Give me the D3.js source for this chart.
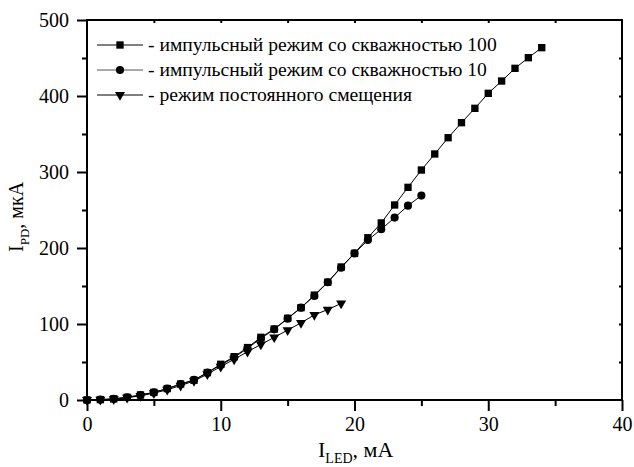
<!DOCTYPE html>
<html>
<head>
<meta charset="utf-8">
<script src="https://cdn.jsdelivr.net/npm/d3@7"></script>
<style>
  body { margin: 0; background: #fff; }
</style>
</head>
<body>
<div id="chart"></div>
<script>
// Data (I_LED in mA, I_PD in uA)
const xSquares = d3.range(0, 35);
const ySquares = [0, 0.5, 1.5, 3.5, 6.6, 10, 15, 21, 26, 36, 47, 57, 69, 82.5, 93.4, 107.5, 121.5, 138, 155, 175,
    193, 213.5, 233, 256.6, 279.8, 302.6, 323.7, 345.1, 364.9, 383.8, 403.5, 419.7, 436.4, 450.4, 463.6];
const xCircles = d3.range(0, 26);
const yCircles = [0, 0.5, 1.5, 3.5, 6.5, 10, 15, 21, 26.5, 36, 46, 56, 68, 81, 93, 107, 121.5, 137, 155, 174,
    193, 210.5, 224.6, 240, 255.7, 269];
const xTriangles = d3.range(0, 20);
const yTriangles = [0, 0.3, 1, 3, 5.5, 9, 13.5, 19, 25, 34, 44, 53.5, 63.6, 73, 82.5, 92, 101.5, 112, 119, 127];

const seriesNames = [
    "- импульсный режим со скважностью 100",
    "- импульсный режим со скважностью 10",
    "- режим постоянного смещения"
];
const xTicks = [0, 10, 20, 30, 40];
const yTicks = [0, 100, 200, 300, 400, 500];

const FONT = "'Liberation Serif', 'Times New Roman', serif";
const width = 634, height = 467;
const margin = { top: 20, right: 12, bottom: 67, left: 87 };

const svg = d3.select("#chart").append("svg")
    .attr("width", width)
    .attr("height", height)
    .attr("font-family", FONT);

const x = d3.scaleLinear().domain([0, 40]).range([margin.left, width - margin.right]);
const y = d3.scaleLinear().domain([0, 500]).range([height - margin.bottom, margin.top]);

const series = [
    { xs: xSquares, ys: ySquares, symbol: d3.symbolSquare, size: 54, rot: 0 },
    { xs: xCircles, ys: yCircles, symbol: d3.symbolCircle, size: 52, rot: 0 },
    { xs: xTriangles, ys: yTriangles, symbol: d3.symbolTriangle, size: 44, rot: 180 }
];

// Minor ticks (bottom / left, outward)
svg.append("g")
    .attr("transform", `translate(0,${y(0)})`)
    .call(d3.axisBottom(x).tickValues(d3.range(5, 40, 10)).tickSize(6).tickFormat(""))
    .call(g => g.select(".domain").remove())
    .call(g => g.selectAll("line").attr("stroke-width", 2));
svg.append("g")
    .attr("transform", `translate(${x(0)},0)`)
    .call(d3.axisLeft(y).tickValues(d3.range(50, 500, 100)).tickSize(5).tickFormat(""))
    .call(g => g.select(".domain").remove())
    .call(g => g.selectAll("line").attr("stroke-width", 2));

// Top / right axes, small inward ticks
svg.append("g")
    .attr("transform", `translate(0,${y(500)})`)
    .call(d3.axisBottom(x).tickValues(d3.range(5, 40, 5)).tickSize(3).tickFormat(""))
    .call(g => g.select(".domain").remove())
    .call(g => g.selectAll("line").attr("stroke-width", 2));
svg.append("g")
    .attr("transform", `translate(${x(40)},0)`)
    .call(d3.axisLeft(y).tickValues(d3.range(50, 500, 50)).tickSize(3).tickFormat(""))
    .call(g => g.select(".domain").remove())
    .call(g => g.selectAll("line").attr("stroke-width", 2));

// Main axes
const xAxis = svg.append("g")
    .attr("transform", `translate(0,${y(0)})`)
    .call(d3.axisBottom(x).tickValues(xTicks).tickSize(11).tickPadding(6).tickSizeOuter(0));
const yAxis = svg.append("g")
    .attr("transform", `translate(${x(0)},0)`)
    .call(d3.axisLeft(y).tickValues(yTicks).tickSize(10).tickPadding(8).tickSizeOuter(0));
[xAxis, yAxis].forEach(g => {
    g.attr("font-family", FONT).attr("font-size", 20);
    g.select(".domain").remove();
    g.selectAll("line").attr("stroke-width", 2);
    g.selectAll("text").style("font-family", FONT).style("font-size", "20px").attr("fill", "#000");
});

// Frame
svg.append("rect")
    .attr("x", x(0))
    .attr("y", y(500))
    .attr("width", x(40) - x(0))
    .attr("height", y(0) - y(500))
    .attr("fill", "none")
    .attr("stroke", "#000")
    .attr("stroke-width", 2);

// Lines and markers
const line = d3.line().x(d => x(d[0])).y(d => y(d[1]));
series.forEach(s => {
    const pts = s.xs.map((v, i) => [v, s.ys[i]]);
    svg.append("path")
        .datum(pts)
        .attr("d", line)
        .attr("fill", "none")
        .attr("stroke", "#000")
        .attr("stroke-width", 1);
    svg.append("g").selectAll("path")
        .data(pts)
        .join("path")
        .attr("d", d3.symbol(s.symbol, s.size))
        .attr("transform", d => `translate(${x(d[0])},${y(d[1])}) rotate(${s.rot})`)
        .attr("fill", "#000");
});

// Legend
const legend = svg.append("g");
series.forEach((s, i) => {
    const ly = 45 + i * 25;
    legend.append("line")
        .attr("x1", 97).attr("x2", 143)
        .attr("y1", ly).attr("y2", ly)
        .attr("stroke", i === 1 ? "#555" : "#000")
        .attr("stroke-width", 1);
    legend.append("path")
        .attr("d", d3.symbol(s.symbol, s.size))
        .attr("transform", `translate(120,${ly}) rotate(${s.rot})`)
        .attr("fill", "#000");
    legend.append("text")
        .attr("x", 148)
        .attr("y", ly + 5.5)
        .style("font-family", FONT)
        .style("font-size", "19.6px")
        .text(seriesNames[i]);
});

// Axis titles
const xTitle = svg.append("text")
    .attr("x", 318)
    .attr("y", 457)
    .style("font-family", FONT)
    .style("font-size", "22px");
xTitle.append("tspan").text("I");
xTitle.append("tspan").style("font-size", "14px").attr("dy", 6).text("LED");
xTitle.append("tspan").attr("dy", -6).text(", мА");

const yTitle = svg.append("text")
    .attr("transform", "translate(23,252) rotate(-90)")
    .style("font-family", FONT)
    .style("font-size", "20px");
yTitle.append("tspan").text("I");
yTitle.append("tspan").style("font-size", "13px").attr("dy", 6).text("PD");
yTitle.append("tspan").attr("dy", -6).text(", мкА");
</script>
</body>
</html>
